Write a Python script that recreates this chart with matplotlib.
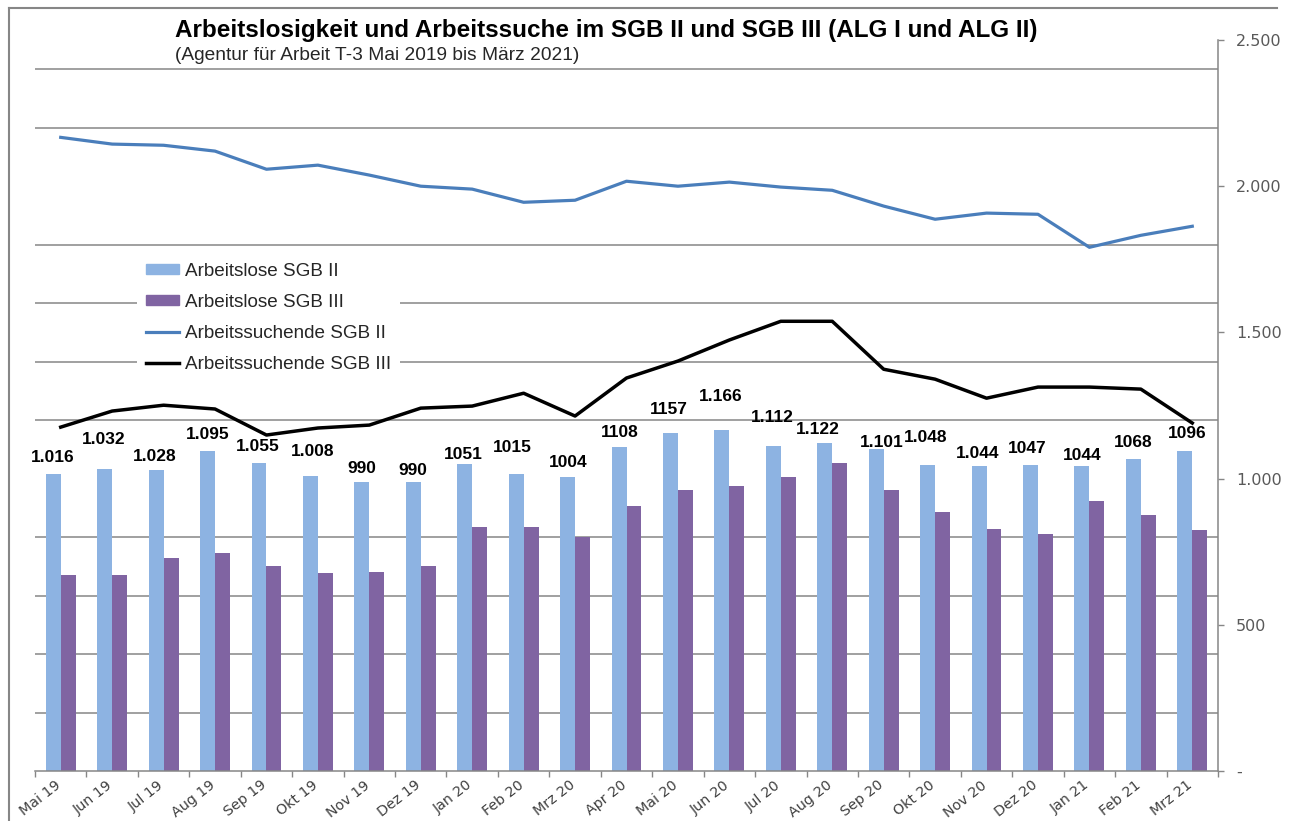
import matplotlib.pyplot as plt
from matplotlib.lines import Line2D
from matplotlib.patches import Patch
from matplotlib.ticker import MultipleLocator, FixedLocator
from matplotlib.transforms import ScaledTranslation

months = ["Mai 19", "Jun 19", "Jul 19", "Aug 19", "Sep 19", "Okt 19", "Nov 19", "Dez 19",
          "Jan 20", "Feb 20", "Mrz 20", "Apr 20", "Mai 20", "Jun 20", "Jul 20", "Aug 20",
          "Sep 20", "Okt 20", "Nov 20", "Dez 20", "Jan 21", "Feb 21", "Mrz 21"]

arbeitslose_sgb2 = [1016, 1032, 1028, 1095, 1055, 1008, 990, 990, 1051, 1015, 1004, 1108,
                    1157, 1166, 1112, 1122, 1101, 1048, 1044, 1047, 1044, 1068, 1096]
arbeitslose_sgb2_text = ["1.016", "1.032", "1.028", "1.095", "1.055", "1.008", "990", "990",
                         "1051", "1015", "1004", "1108", "1157", "1.166", "1.112", "1.122",
                         "1.101", "1.048", "1.044", "1047", "1044", "1068", "1096"]
arbeitslose_sgb3 = [669, 670, 730, 744, 700, 676, 679, 700, 836, 836, 799, 908,
                    962, 976, 1007, 1055, 962, 887, 826, 812, 925, 874, 823]
suchende_sgb2 = [2167, 2144, 2140, 2120, 2058, 2072, 2038, 2000, 1990, 1945, 1952, 2017,
                 2000, 2014, 1997, 1986, 1932, 1887, 1908, 1904, 1791, 1832, 1863]
suchende_sgb3 = [1176, 1231, 1251, 1238, 1149, 1173, 1183, 1241, 1248, 1292, 1214, 1344,
                 1402, 1474, 1538, 1538, 1374, 1340, 1275, 1313, 1313, 1306, 1190]

ytick_values = [0, 500, 1000, 1500, 2000, 2500]
ytick_labels = ["-", "500", "1.000", "1.500", "2.000", "2.500"]

# hand-placed label offsets (pixels) like in the original Excel chart
label_dx = [-1, -1, -1, 0, -1, 2, 0, 0, -1, -4, 1, 1, -2, -1, -1, -7, 6, -2, -1, -3, 0, 0, 2]
label_dy = [16, 30, 14, 16, 16, 25, 13, 11, 9, 27, 15, 15, 23, 34, 28, 13, 7, 27, 12, 16, 10, 16, 17]

blue_bar = "#8DB3E2"
purple_bar = "#8064A2"
blue_line = "#4A7EBB"
grey = "#868686"

fig = plt.figure(figsize=(12.91, 8.21), dpi=100)
ax = fig.add_axes([35 / 1291, 1 - 771 / 821, (1218 - 35) / 1291, (771 - 40) / 821])

x = list(range(len(months)))
w = 0.29
ax.bar([i - w / 2 for i in x], arbeitslose_sgb2, width=w, color=blue_bar, zorder=2)
ax.bar([i + w / 2 for i in x], arbeitslose_sgb3, width=w, color=purple_bar, zorder=2)
ax.plot(x, suchende_sgb2, color=blue_line, lw=2.3, zorder=3)
ax.plot(x, suchende_sgb3, color="black", lw=2.5, zorder=3)

for i, (v, t) in enumerate(zip(arbeitslose_sgb2, arbeitslose_sgb2_text)):
    ax.annotate(t, xy=(i - w / 2, v), xytext=(label_dx[i], label_dy[i]),
                textcoords="offset pixels", ha="center", va="center",
                fontsize=12.5, fontweight="bold", family="Liberation Sans", zorder=4)

ax.set_xlim(-0.5, len(months) - 0.5)
ax.set_ylim(0, 2500)

ax.yaxis.tick_right()
ax.set_yticks(ytick_values)
ax.set_yticklabels(ytick_labels)
ax.yaxis.set_minor_locator(MultipleLocator(200))
ax.grid(which="minor", axis="y", color=grey, lw=1.1, zorder=0)
ax.tick_params(axis="y", which="major", direction="out", length=4, width=1, color=grey,
               pad=9, labelsize=11.5, labelcolor="#595959")
ax.tick_params(axis="y", which="minor", length=0)

ax.xaxis.set_major_locator(FixedLocator([i - 0.5 for i in range(len(months) + 1)]))
ax.xaxis.set_minor_locator(FixedLocator(x))
ax.set_xticklabels([], minor=False)
ax.set_xticklabels(months, minor=True, rotation=38, ha="right", va="top",
                   rotation_mode="anchor", fontsize=10.3, color="#404040")
ax.tick_params(axis="x", which="major", direction="out", length=4, width=1, color=grey)
ax.tick_params(axis="x", which="minor", length=0, pad=5)
shift = ScaledTranslation(-6 / 100, 0, fig.dpi_scale_trans)
for lbl in ax.get_xticklabels(minor=True):
    lbl.set_transform(lbl.get_transform() + shift)

for s in ["left", "top"]:
    ax.spines[s].set_visible(False)
for s in ["right", "bottom"]:
    ax.spines[s].set_color(grey)
    ax.spines[s].set_linewidth(1.1)

handles = [Patch(color=blue_bar), Patch(color=purple_bar),
           Line2D([], [], color=blue_line, lw=2.3), Line2D([], [], color="black", lw=2.5)]
labels = ["Arbeitslose SGB II", "Arbeitslose SGB III", "Arbeitssuchende SGB II",
          "Arbeitssuchende SGB III"]
leg = ax.legend(handles, labels, loc="upper left", bbox_to_anchor=(0.078, 0.721),
                frameon=True, facecolor="white", edgecolor="none", framealpha=1,
                prop={"family": "Liberation Sans", "size": 13.6}, handlelength=1.75,
                handleheight=0.45, handletextpad=0.3, labelspacing=0.75, borderpad=0.5)
for t in leg.get_texts():
    t.set_color("#262626")

fig.text(175 / 1291, 1 - 31 / 821, "Arbeitslosigkeit und Arbeitssuche im SGB II und SGB III (ALG I und ALG II)",
         fontsize=17.5, fontweight="bold", family="Liberation Sans", va="center", ha="left")
fig.text(175 / 1291, 1 - 56 / 821, "(Agentur für Arbeit T-3 Mai 2019 bis März 2021)",
         fontsize=13.8, family="Liberation Sans", va="center", ha="left", color="#262626")

# outer frame of the original graphic
fig.add_artist(Line2D([9 / 1291, 1277 / 1291], [1 - 8 / 821, 1 - 8 / 821], color=grey, lw=1.5))
fig.add_artist(Line2D([9 / 1291, 9 / 1291], [1 - 8 / 821, 0], color=grey, lw=1.5))

fig.savefig("out.png", dpi=100)
